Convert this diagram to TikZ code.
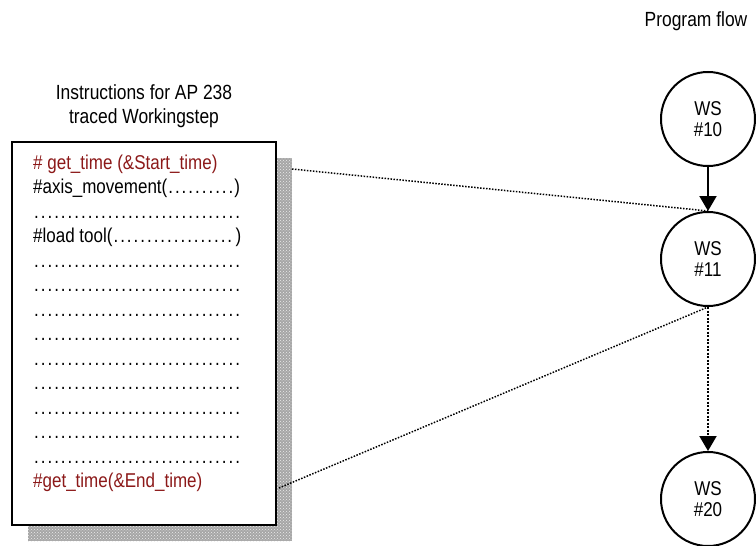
\documentclass[tikz,border=0pt]{standalone}
\usepackage{fontspec}
\setmainfont[FakeStretch=0.85]{Liberation Sans}
\usetikzlibrary{arrows.meta,patterns}
\definecolor{codered}{RGB}{140,25,25}
\newcommand{\dotrun}[1]{\hbox to #1{\leaders\hbox to 6.7pt{\hss.\hss}\hfill}}
\tikzset{
	wsnode/.style={circle,draw,line width=2pt,minimum size=94pt,inner sep=0pt,
		align=center,font=\fontsize{20}{21}\selectfont},
	codeline/.style={anchor=base west,inner sep=0pt,font=\fontsize{20}{24}\selectfont},
	title/.style={anchor=base,inner sep=0pt,font=\fontsize{20.5}{24}\selectfont},
	flowarrow/.style={line width=2pt,-{Triangle[length=15pt,width=17pt]}},
	traceline/.style={line width=1.5pt,dash pattern=on 1.5pt off 1.5pt}
}
\begin{document}
\begin{tikzpicture}[x=1pt,y=-1pt]
	\useasboundingbox (0,0) rectangle (756,546);
	
	% instruction list with shadow
	\fill[gray!70] (28,158) rectangle (292,541);
	\fill[pattern=crosshatch dots,pattern color=gray!15] (28,158) rectangle (292,541);
	\draw[line width=2pt,fill=white] (12,142) rectangle (276,525);
	
	\node[title] (tit1) at (144,99) {Instructions for AP 238};
	\node[title] (tit2) at (144,123) {traced Workingstep};
	\node[title] (flow) at (696,27) {Program flow};
	
	\node[codeline,text=codered] (l0) at (33,169) {\# get\_time (\&Start\_time)};
	\node[codeline] (l1) at (33,193.5) {\#axis\_movement(\dotrun{67pt})};
	\node[codeline] (l2) at (33,218) {\dotrun{208pt}};
	\node[codeline] (l3) at (33,242.5) {\#load tool(\dotrun{123pt})};
	\foreach \i in {4,...,12}
		\node[codeline] (l\i) at (33,169+24.5*\i) {\dotrun{208pt}};
	\node[codeline,text=codered] (l13) at (33,487.5) {\#get\_time(\&End\_time)};
	
	% program flow
	\node[wsnode] (ws10) at (708,119) {WS\\\#10};
	\node[wsnode] (ws11) at (708,259) {WS\\\#11};
	\node[wsnode] (ws20) at (708,499) {WS\\\#20};
	
	\draw[flowarrow] (ws10) -- (ws11);
	\draw[flowarrow,dash pattern=on 2pt off 1.5pt] (ws11) -- (ws20);
	
	\coordinate (startT) at (292,169);
	\coordinate (endT) at (279,488);
	\draw[traceline] (startT) -- (ws11.north);
	\draw[traceline] (endT) -- (ws11.south);
	
\end{tikzpicture}
\end{document}
